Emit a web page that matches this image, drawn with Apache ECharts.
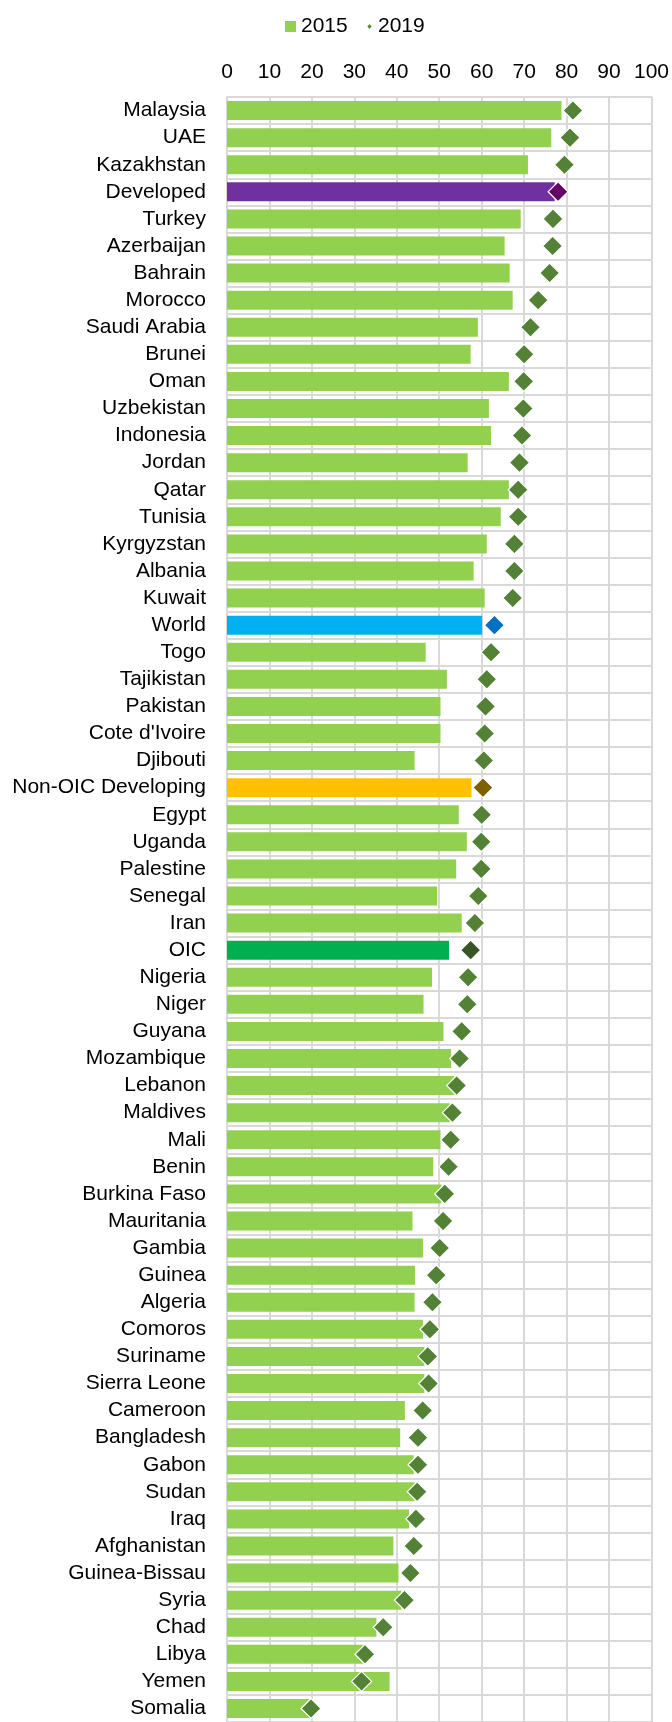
<!DOCTYPE html>
<html>
<head>
<meta charset="utf-8">
<script src="https://cdn.jsdelivr.net/npm/echarts@6/dist/echarts.min.js"></script>
<style>
html,body{margin:0;padding:0;background:#fff;}
#chart{width:672px;height:1722px;}
</style>
</head>
<body>
<div id="chart"></div>
<script>
const categories = ["Malaysia","UAE","Kazakhstan","Developed","Turkey","Azerbaijan","Bahrain","Morocco","Saudi Arabia","Brunei","Oman","Uzbekistan","Indonesia","Jordan","Qatar","Tunisia","Kyrgyzstan","Albania","Kuwait","World","Togo","Tajikistan","Pakistan","Cote d'Ivoire","Djibouti","Non-OIC Developing","Egypt","Uganda","Palestine","Senegal","Iran","OIC","Nigeria","Niger","Guyana","Mozambique","Lebanon","Maldives","Mali","Benin","Burkina Faso","Mauritania","Gambia","Guinea","Algeria","Comoros","Suriname","Sierra Leone","Cameroon","Bangladesh","Gabon","Sudan","Iraq","Afghanistan","Guinea-Bissau","Syria","Chad","Libya","Yemen","Somalia"];
const values2015 = [78.8,76.4,70.9,77.2,69.2,65.4,66.6,67.3,59.1,57.4,66.4,61.7,62.2,56.7,66.4,64.5,61.2,58.1,60.7,60.1,46.8,51.8,50.3,50.3,44.2,57.6,54.6,56.5,54.0,49.5,55.3,52.3,48.3,46.3,51.0,52.8,53.5,52.5,50.3,48.6,50.5,43.7,46.2,44.3,44.2,46.2,46.5,46.5,41.9,40.8,44.0,44.2,42.9,39.2,40.4,41.1,35.2,32.2,38.3,19.5];
const values2019 = [81.5,80.8,79.5,78.0,76.8,76.7,76.0,73.3,71.5,70.0,69.9,69.8,69.5,68.9,68.6,68.6,67.7,67.7,67.3,63.0,62.2,61.2,60.9,60.7,60.5,60.3,60.0,59.9,59.9,59.2,58.4,57.4,56.8,56.6,55.3,54.8,54.1,53.1,52.7,52.2,51.3,50.9,50.1,49.3,48.4,47.8,47.3,47.5,46.1,45.0,45.0,44.8,44.5,44.0,43.2,41.8,36.8,32.5,31.7,19.8];
const xTicks = [0,10,20,30,40,50,60,70,80,90,100];

const barColorMap = {"Developed":"#7030A0","World":"#00B0F0","Non-OIC Developing":"#FFC000","OIC":"#00B050"};
const markColorMap = {"Developed":"#660066","World":"#0070C0","Non-OIC Developing":"#7F6000","OIC":"#375623"};
const BAR = "#92D050", MARK = "#538135";
const FONT = "'Liberation Sans', Arial, sans-serif";

const barData = values2015.map((v,i)=>({value:v, itemStyle:{color: barColorMap[categories[i]] || BAR}}));
const markData = values2019.map((v,i)=>({value:v, itemStyle:{color: markColorMap[categories[i]] || MARK}}));

const chart = echarts.init(document.getElementById('chart'), null, {renderer:'canvas'});
chart.setOption({
  animation:false,
  backgroundColor:'#fff',
  textStyle:{fontFamily:FONT},
  legend:[
    {data:[{name:'2015',icon:'rect'}], left:280, top:11, itemWidth:11, itemHeight:11, itemGap:4,
     textStyle:{fontSize:21, color:'#000', fontFamily:FONT}},
    {data:[{name:'2019',icon:'diamond'}], left:360, top:11, itemWidth:7, itemHeight:8, itemGap:4,
     textStyle:{fontSize:21, color:'#000', fontFamily:FONT}}
  ],
  grid:{left:227, right:17.5, top:97, height:1630, containLabel:false},
  xAxis:{
    type:'value', position:'top', min:0, max:100, interval:10,
    axisLine:{show:true, lineStyle:{color:'#d9d9d9', width:2}},
    axisTick:{show:false},
    axisLabel:{fontSize:21, color:'#000', margin:14, fontFamily:FONT,
      formatter:(v)=> xTicks.includes(v) ? String(v) : ''},
    splitLine:{show:true, lineStyle:{color:'#d9d9d9', width:2}}
  },
  yAxis:{
    type:'category', inverse:true, data:categories,
    axisLine:{show:true, lineStyle:{color:'#d9d9d9', width:2}},
    axisTick:{show:false},
    axisLabel:{fontSize:21, color:'#000', margin:21, fontFamily:FONT, interval:0},
    splitLine:{show:true, interval:0, lineStyle:{color:'#d9d9d9', width:2}}
  },
  series:[
    {name:'2015', type:'bar', data:barData, barWidth:19, itemStyle:{color:BAR}, z:2},
    {name:'2019', type:'scatter', data:markData, symbol:'diamond', symbolSize:[20,20],
     itemStyle:{color:MARK, borderColor:'#fff', borderWidth:1.2, opacity:1}, z:3}
  ]
});
</script>
</body>
</html>
